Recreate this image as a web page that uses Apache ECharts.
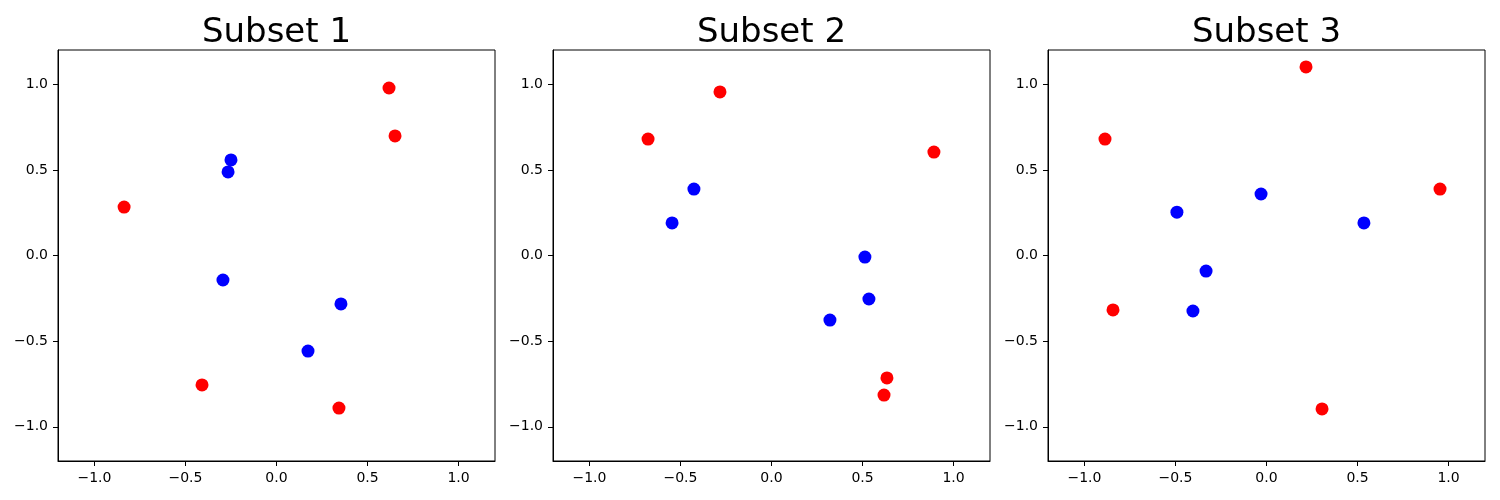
<!DOCTYPE html>
<html>
<head>
<meta charset="utf-8">
<script src="https://cdn.jsdelivr.net/npm/echarts@6/dist/echarts.min.js"></script>
<style>html,body{margin:0;padding:0;background:#fff}#c{width:1500px;height:500px}</style>
</head>
<body>
<div id="c"></div>
<script>
const titles = ["Subset 1", "Subset 2", "Subset 3"];
const tickValues = [-1.0, -0.5, 0.0, 0.5, 1.0];
// [x, y] pairs per subset
const red1 = [[0.618, 0.978], [0.651, 0.698], [-0.837, 0.283], [-0.409, -0.756], [0.343, -0.891]];
const blue1 = [[-0.250, 0.558], [-0.266, 0.488], [-0.294, -0.143], [0.354, -0.283], [0.173, -0.558]];
const red2 = [[-0.678, 0.680], [-0.283, 0.955], [0.892, 0.604], [0.634, -0.715], [0.618, -0.815]];
const blue2 = [[-0.426, 0.388], [-0.546, 0.190], [0.513, -0.009], [0.535, -0.254], [0.321, -0.377]];
const red3 = [[0.217, 1.101], [-0.887, 0.680], [0.953, 0.388], [-0.843, -0.318], [0.305, -0.896]];
const blue3 = [[-0.030, 0.359], [-0.492, 0.253], [0.535, 0.190], [-0.332, -0.091], [-0.404, -0.324]];

const reds = [red1, red2, red3];
const blues = [blue1, blue2, blue3];
const lefts = [58, 553, 1048];
const W = 437, TOP = 50, H = 411;

const fmt = v => { const s = Number(v).toFixed(1); return s.replace('-', '\u2212'); };
const font = "DejaVu Sans";

const grids = [], xAxes = [], yAxes = [], series = [], titleOpts = [];
for (let i = 0; i < 3; i++) {
  grids.push({left: lefts[i], top: TOP, width: W, height: H, show: true, borderColor: '#000', borderWidth: 1, backgroundColor: '#fff', containLabel: false});
  titleOpts.push({text: titles[i], left: lefts[i] + W / 2 - 5, top: 11, textAlign: 'center',
    textStyle: {fontFamily: font, fontSize: 34, fontWeight: 'normal', color: '#000'}});
  const axisCommon = {
    type: 'value', gridIndex: i, min: -1.2, max: 1.2,
    splitLine: {show: false},
    axisLine: {show: true, onZero: false, lineStyle: {color: '#000', width: 1}},
    axisTick: {show: true, inside: false, length: 5, customValues: tickValues, lineStyle: {color: '#000', width: 1}},
    axisLabel: {show: true, customValues: tickValues, formatter: fmt, fontFamily: font, fontSize: 14, color: '#000', margin: 10,
      showMinLabel: true, showMaxLabel: true}
  };
  xAxes.push(Object.assign({}, axisCommon, {position: 'bottom'}));
  yAxes.push(Object.assign({}, axisCommon, {position: 'left'}));
  series.push({type: 'scatter', xAxisIndex: i, yAxisIndex: i, data: reds[i], symbolSize: 13,
    itemStyle: {color: '#ff0000', opacity: 1}, silent: true, animation: false});
  series.push({type: 'scatter', xAxisIndex: i, yAxisIndex: i, data: blues[i], symbolSize: 13,
    itemStyle: {color: '#0000ff', opacity: 1}, silent: true, animation: false});
}

const chart = echarts.init(document.getElementById('c'), null, {renderer: 'canvas'});
chart.setOption({
  animation: false,
  backgroundColor: '#fff',
  title: titleOpts,
  grid: grids,
  xAxis: xAxes,
  yAxis: yAxes,
  series: series
});
</script>
</body>
</html>
